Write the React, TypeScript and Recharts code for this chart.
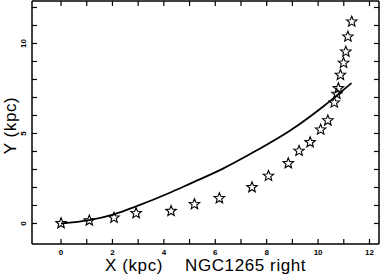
import React from 'react';
import { ComposedChart, XAxis, YAxis, Scatter, Line, Label } from 'recharts';

// Star markers (observed points)
const starX = [0, 1.10, 2.06, 2.92, 4.28, 5.19, 6.16, 7.43, 8.07, 8.84, 9.26, 9.69, 10.10, 10.38, 10.63, 10.73, 10.79, 10.87, 10.99, 11.08, 11.16, 11.31];
const starY = [0.01, 0.16, 0.32, 0.57, 0.69, 1.07, 1.40, 2.01, 2.64, 3.34, 4.03, 4.51, 5.21, 5.72, 6.71, 7.20, 7.51, 8.25, 8.92, 9.54, 10.38, 11.21];

// Model curve
const lineX = [0, 1.1, 2.06, 2.92, 4.3, 5.0, 6.3, 7.6, 8.9, 10.2, 11.3];
const lineY = [0, 0.19, 0.51, 0.95, 1.75, 2.2, 3.05, 4.05, 5.15, 6.5, 7.8];

const xTicks = [0, 1, 2, 3, 4, 5, 6, 7, 8, 9, 10, 11, 12];
const yTicks = [0, 1, 2, 3, 4, 5, 6, 7, 8, 9, 10, 11, 12];
const xLabelTicks = [0, 2, 4, 6, 8, 10, 12];
const yLabelTicks = [0, 5, 10];

const xDomain: [number, number] = [-1.13, 12.37];
const yDomain: [number, number] = [-1.14, 12.36];

const stars = starX.map((x, i) => ({ x, y: starY[i] }));
const curve = lineX.map((x, i) => ({ x, y: lineY[i] }));

const FONT = '"Liberation Sans", Arial, Helvetica, sans-serif';
const TL = 5;

const BottomTick = (props: any) => {
  const { x, y, payload } = props;
  const v = payload.value;
  return (
    <g>
      <line x1={x} y1={y} x2={x} y2={y - TL} stroke="#000" strokeWidth={1.2} />
      {xLabelTicks.includes(v) && (
        <text x={x} y={y + 11} textAnchor="middle" fontSize={8} fontWeight="bold" fontFamily={FONT} fill="#000">
          {v}
        </text>
      )}
    </g>
  );
};

const TopTick = (props: any) => {
  const { x, y } = props;
  return <line x1={x} y1={y} x2={x} y2={y + TL} stroke="#000" strokeWidth={1.2} />;
};

const LeftTick = (props: any) => {
  const { x, y, payload } = props;
  const v = payload.value;
  return (
    <g>
      <line x1={x} y1={y} x2={x + TL} y2={y} stroke="#000" strokeWidth={1.2} />
      {yLabelTicks.includes(v) && (
        <text
          x={x - 6}
          y={y}
          transform={`rotate(-90 ${x - 6} ${y})`}
          textAnchor="middle"
          fontSize={8}
          fontWeight="bold"
          fontFamily={FONT}
          fill="#000"
        >
          {v}
        </text>
      )}
    </g>
  );
};

const RightTick = (props: any) => {
  const { x, y } = props;
  return <line x1={x} y1={y} x2={x - TL} y2={y} stroke="#000" strokeWidth={1.2} />;
};

const Star = (props: any) => {
  const { cx, cy } = props;
  if (cx == null || cy == null) return null;
  const R = 5.5;
  const r = 2.4;
  let d = '';
  for (let i = 0; i < 10; i++) {
    const ang = -Math.PI / 2 + (i * Math.PI) / 5;
    const rad = i % 2 === 0 ? R : r;
    d += (i ? 'L' : 'M') + (cx + rad * Math.cos(ang)).toFixed(2) + ',' + (cy + rad * Math.sin(ang)).toFixed(2);
  }
  return <path d={d + 'Z'} fill="none" stroke="#000" strokeWidth={1.1} />;
};

const Empty = () => <g />;

const XLabel = (props: any) => {
  const vb = props.viewBox || {};
  const base = (vb.y ?? 244) + 27;
  const x0 = vb.x ?? 32;
  return (
    <g fontFamily={FONT} fontSize={17} fill="#000" letterSpacing={0.6}>
      <text x={x0 + 73} y={base}>X (kpc)</text>
      <text x={x0 + 153} y={base}>NGC1265 right</text>
    </g>
  );
};

const YLabel = (props: any) => {
  const vb = props.viewBox || {};
  const cy = (vb.y ?? 1) + (vb.height ?? 243) / 2 + 3;
  const cx = 16;
  return (
    <text
      x={cx}
      y={cy}
      transform={`rotate(-90 ${cx} ${cy})`}
      textAnchor="middle"
      fontFamily={FONT}
      fontSize={17}
      letterSpacing={0.6}
      fill="#000"
    >
      Y (kpc)
    </text>
  );
};

export default function App() {
  const axisLine = { stroke: '#000', strokeWidth: 1.5 };
  return (
    <div style={{ position: 'absolute', left: 0, top: 0, width: 382, height: 276, background: '#fff' }}>
      <ComposedChart width={382} height={276} margin={{ top: 0, right: 0, left: 0, bottom: 0 }}>
        <XAxis
          xAxisId="b"
          dataKey="x"
          type="number"
          orientation="bottom"
          domain={xDomain}
          allowDataOverflow
          ticks={xTicks}
          interval={0}
          height={32}
          tickSize={0}
          tickMargin={0}
          tickLine={false}
          axisLine={axisLine}
          tick={<BottomTick />}
        >
          <Label content={<XLabel />} />
        </XAxis>
        <XAxis
          xAxisId="t"
          dataKey="x"
          type="number"
          orientation="top"
          domain={xDomain}
          allowDataOverflow
          ticks={xTicks}
          interval={0}
          height={1}
          tickSize={0}
          tickMargin={0}
          tickLine={false}
          axisLine={axisLine}
          tick={<TopTick />}
        />
        <YAxis
          yAxisId="l"
          dataKey="y"
          type="number"
          orientation="left"
          domain={yDomain}
          allowDataOverflow
          ticks={yTicks}
          interval={0}
          width={32}
          tickSize={0}
          tickMargin={0}
          tickLine={false}
          axisLine={axisLine}
          tick={<LeftTick />}
        >
          <Label content={<YLabel />} />
        </YAxis>
        <YAxis
          yAxisId="r"
          dataKey="y"
          type="number"
          orientation="right"
          domain={yDomain}
          allowDataOverflow
          ticks={yTicks}
          interval={0}
          width={3}
          tickSize={0}
          tickMargin={0}
          tickLine={false}
          axisLine={axisLine}
          tick={<RightTick />}
        />
        <Scatter
          xAxisId="t"
          yAxisId="r"
          data={stars}
          dataKey="y"
          shape={<Empty />}
          legendType="none"
          isAnimationActive={false}
        />
        <Line
          xAxisId="b"
          yAxisId="l"
          data={curve}
          dataKey="y"
          type="monotone"
          stroke="#000"
          strokeWidth={1.8}
          dot={false}
          activeDot={false}
          isAnimationActive={false}
        />
        <Scatter
          xAxisId="b"
          yAxisId="l"
          data={stars}
          dataKey="y"
          shape={<Star />}
          isAnimationActive={false}
        />
      </ComposedChart>
    </div>
  );
}
